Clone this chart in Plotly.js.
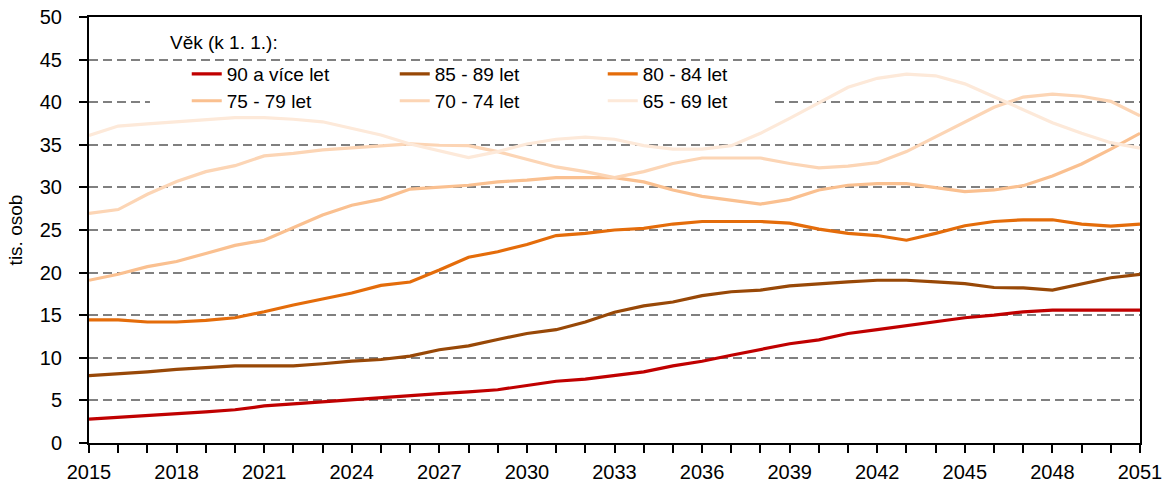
<!DOCTYPE html>
<html>
<head>
<meta charset="utf-8">
<script src="https://cdn.plot.ly/plotly-3.0.1.min.js"></script>
<style>
	html, body { margin: 0; padding: 0; background: #fff; }
	#chart { width: 1167px; height: 483px; }
</style>
</head>
<body>
<div id="chart"></div>
<script>
(function () {

	'use strict';

	/**
	* Data (tis. osob, k 1. 1.)
	*/
	const years = [
		2015, 2016, 2017, 2018, 2019, 2020, 2021, 2022, 2023, 2024,
		2025, 2026, 2027, 2028, 2029, 2030, 2031, 2032, 2033, 2034,
		2035, 2036, 2037, 2038, 2039, 2040, 2041, 2042, 2043, 2044,
		2045, 2046, 2047, 2048, 2049, 2050, 2051
	];

	const age90 = [
		2.8, 3.0, 3.2, 3.45, 3.65, 3.9, 4.35, 4.6, 4.85, 5.1,
		5.35, 5.55, 5.8, 6.0, 6.25, 6.75, 7.25, 7.5, 7.9, 8.35,
		9.05, 9.6, 10.3, 11.0, 11.65, 12.1, 12.85, 13.3, 13.75, 14.2,
		14.7, 15.0, 15.4, 15.6, 15.6, 15.6, 15.6
	];

	const age85 = [
		7.9, 8.1, 8.35, 8.65, 8.85, 9.05, 9.05, 9.05, 9.3, 9.6,
		9.8, 10.2, 10.95, 11.4, 12.15, 12.85, 13.3, 14.2, 15.35, 16.1,
		16.55, 17.3, 17.75, 17.95, 18.45, 18.7, 18.9, 19.1, 19.1, 18.9,
		18.7, 18.25, 18.2, 17.95, 18.7, 19.4, 19.8
	];

	const age80 = [
		14.45, 14.45, 14.2, 14.2, 14.4, 14.7, 15.4, 16.2, 16.9, 17.6,
		18.5, 18.9, 20.3, 21.8, 22.45, 23.3, 24.35, 24.6, 25.0, 25.2,
		25.7, 26.0, 26.0, 26.0, 25.8, 25.1, 24.6, 24.35, 23.8, 24.6,
		25.5, 26.0, 26.2, 26.2, 25.7, 25.45, 25.7
	];

	const age75 = [
		19.1, 19.8, 20.7, 21.3, 22.25, 23.2, 23.8, 25.3, 26.75, 27.9,
		28.6, 29.8, 30.0, 30.25, 30.65, 30.85, 31.15, 31.15, 31.15, 30.65,
		29.7, 28.95, 28.5, 28.05, 28.6, 29.7, 30.25, 30.45, 30.45, 30.0,
		29.5, 29.7, 30.2, 31.35, 32.75, 34.5, 36.35
	];

	const age70 = [
		26.95, 27.4, 29.2, 30.7, 31.85, 32.55, 33.7, 34.0, 34.4, 34.65,
		34.9, 35.1, 34.95, 34.9, 34.2, 33.3, 32.4, 31.85, 31.15, 31.85,
		32.8, 33.45, 33.45, 33.45, 32.8, 32.3, 32.5, 32.9, 34.2, 35.95,
		37.7, 39.4, 40.6, 40.95, 40.7, 40.1, 38.4
	];

	const age65 = [
		36.1, 37.2, 37.45, 37.7, 38.0, 38.2, 38.2, 38.0, 37.7, 36.95,
		36.15, 35.1, 34.3, 33.5, 34.2, 35.1, 35.65, 35.9, 35.65, 34.9,
		34.5, 34.5, 34.9, 36.35, 38.1, 39.9, 41.75, 42.8, 43.3, 43.1,
		42.15, 40.65, 39.1, 37.6, 36.35, 35.25, 34.6
	];

	const seriesNames = ['90 a více let', '85 - 89 let', '80 - 84 let', '75 - 79 let', '70 - 74 let', '65 - 69 let'];
	const seriesValues = [age90, age85, age80, age75, age70, age65];
	const seriesColors = ['#C00000', '#984807', '#E46C0A', '#FAC090', '#FCD5B5', '#FDE9D9'];

	const legendTitle = 'Věk (k 1. 1.):';

	const font = 'Liberation Sans, Arial, sans-serif';
	const txt = ( size ) => ({ family: font, size: size, color: '#000' });

	/**
	* one trace per age group, first 3 in legend row 1, rest in row 2
	*/
	const data = seriesValues.map(( values, i ) => ({
		x: years,
		y: values,
		name: seriesNames[i],
		type: 'scatter',
		mode: 'lines',
		line: { color: seriesColors[i], width: 3.2 },
		legend: i < 3 ? 'legend' : 'legend2',
		hovertemplate: '%{y}<br>%{x}',
	}));

	// shared legend row style
	const legendRow = {
		orientation: 'h',
		xanchor: 'left',
		yanchor: 'middle',
		x: 0.093,
		entrywidth: 163,
		entrywidthmode: 'pixels',
		bgcolor: 'rgba(0,0,0,0)',
		font: txt(19),
		tracegroupgap: 0,
		itemwidth: 30,
	};

	const layout = {
		width: 1167,
		height: 483,
		margin: { l: 89, r: 27, t: 17, b: 40 },
		paper_bgcolor: '#fff',
		plot_bgcolor: '#fff',
		font: txt(20),
		showlegend: true,
		legend: Object.assign({}, legendRow, { y: 0.866 }),
		legend2: Object.assign({}, legendRow, { y: 0.803 }),
		annotations: [{
			text: legendTitle,
			xref: 'paper',
			yref: 'paper',
			x: 0.0752,
			y: 0.941,
			xanchor: 'left',
			yanchor: 'middle',
			showarrow: false,
			font: txt(19),
		}],
		// white legend box behind row 2 (no data line passes there)
		shapes: [{
			type: 'rect',
			xref: 'paper',
			yref: 'paper',
			x0: 0.058,
			x1: 0.648,
			y0: 0.777,
			y1: 0.829,
			layer: 'above',
			fillcolor: '#fff',
			line: { width: 0 },
		}],
		xaxis: {
			range: [2015, 2051],
			tick0: 2015,
			dtick: 3,
			ticks: 'outside',
			ticklen: 8,
			tickwidth: 2,
			tickcolor: '#000',
			minor: { dtick: 1, ticks: 'outside', ticklen: 8, tickwidth: 2, tickcolor: '#000' },
			showgrid: false,
			zeroline: false,
			showline: true,
			linecolor: '#000',
			linewidth: 2,
			mirror: true,
			ticklabelstandoff: 2,
			tickfont: txt(20),
		},
		yaxis: {
			range: [0, 50],
			dtick: 5,
			ticks: 'outside',
			ticklen: 8,
			tickwidth: 2,
			tickcolor: '#000',
			showgrid: true,
			gridcolor: '#808080',
			gridwidth: 2,
			griddash: '9px,5px',
			zeroline: false,
			showline: true,
			linecolor: '#000',
			linewidth: 2,
			mirror: true,
			ticklabelstandoff: 13,
			tickfont: txt(20),
			title: { text: 'tis. osob', standoff: 12, font: txt(19) },
		},
	};

	Plotly.newPlot('chart', data, layout, { displayModeBar: false, staticPlot: true });

})();
</script>
</body>
</html>
